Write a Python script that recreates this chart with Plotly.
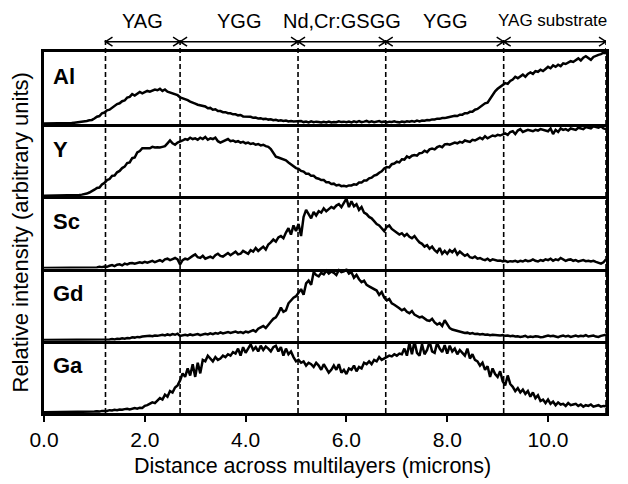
import plotly.graph_objects as go
from plotly.subplots import make_subplots

# ---------------- data ----------------
STEP = 0.05          # microns between samples
XMAX = 11.15         # right edge of the scan (microns)

ELEMENTS = ["Al", "Y", "Sc", "Gd", "Ga"]

AL = [
0.00,0.00,0.00,0.00,0.00,0.00,0.00,0.00,0.005,0.005,0.01,0.008,0.012,0.015,0.02,0.025,0.03,0.035,0.045,0.05,
0.07,0.095,0.105,0.145,0.155,0.185,0.195,0.225,0.245,0.275,0.285,0.315,0.325,0.365,0.375,0.415,0.395,0.425,0.445,0.425,
0.44,0.46,0.45,0.47,0.48,0.47,0.49,0.46,0.48,0.45,0.44,0.43,0.42,0.40,0.37,0.36,0.34,0.33,0.31,0.30,
0.28,0.265,0.26,0.245,0.24,0.215,0.22,0.195,0.20,0.175,0.175,0.16,0.16,0.145,0.145,0.13,0.13,0.115,0.12,0.10,
0.10,0.09,0.095,0.08,0.085,0.07,0.075,0.062,0.068,0.055,0.06,0.046,0.052,0.04,0.046,0.036,0.042,0.03,0.036,0.028,
0.03,0.022,0.034,0.02,0.028,0.016,0.03,0.018,0.026,0.02,0.014,0.024,0.016,0.028,0.014,0.022,0.018,0.03,0.02,0.026,
0.018,0.028,0.016,0.03,0.02,0.034,0.018,0.026,0.036,0.02,0.03,0.018,0.026,0.034,0.02,0.028,0.016,0.026,0.022,0.03,
0.02,0.016,0.028,0.02,0.032,0.024,0.034,0.026,0.04,0.03,0.042,0.038,0.05,0.046,0.058,0.056,0.068,0.066,0.078,0.076,
0.085,0.095,0.095,0.11,0.105,0.125,0.125,0.145,0.145,0.165,0.165,0.195,0.205,0.235,0.255,0.285,0.295,0.355,0.41,0.455,
0.49,0.52,0.55,0.57,0.56,0.60,0.62,0.66,0.64,0.67,0.69,0.66,0.70,0.72,0.70,0.74,0.73,0.76,0.74,0.77,
0.80,0.78,0.82,0.80,0.83,0.81,0.85,0.84,0.86,0.88,0.87,0.90,0.92,0.89,0.93,0.95,0.92,0.90,0.94,0.96,
0.97,0.98,1.00,0.99]

Y = [
0,0,0,0,0,0,0,0,0,0,0,0,0.005,0.008,0.01,0.015,0.02,0.03,0.045,0.06,
0.085,0.11,0.115,0.16,0.18,0.22,0.235,0.28,0.285,0.33,0.35,0.39,0.41,0.46,0.47,0.53,0.54,0.61,0.63,0.67,
0.67,0.68,0.67,0.69,0.68,0.685,0.68,0.69,0.70,0.74,0.78,0.74,0.72,0.75,0.76,0.78,0.80,0.79,0.82,0.80,
0.81,0.79,0.82,0.80,0.83,0.79,0.81,0.80,0.82,0.77,0.75,0.77,0.78,0.80,0.77,0.78,0.76,0.77,0.75,0.76,
0.74,0.75,0.73,0.74,0.72,0.73,0.71,0.72,0.70,0.69,0.66,0.60,0.55,0.54,0.53,0.51,0.50,0.47,0.44,0.41,
0.39,0.38,0.35,0.34,0.31,0.31,0.28,0.28,0.25,0.24,0.22,0.22,0.19,0.19,0.165,0.17,0.145,0.155,0.135,0.14,
0.13,0.145,0.145,0.16,0.155,0.185,0.185,0.215,0.215,0.245,0.255,0.285,0.295,0.325,0.345,0.385,0.405,0.40,0.445,0.455,
0.48,0.47,0.515,0.51,0.555,0.535,0.565,0.575,0.565,0.60,0.605,0.635,0.615,0.655,0.665,0.655,0.685,0.70,0.685,0.725,
0.73,0.72,0.74,0.75,0.74,0.76,0.75,0.78,0.77,0.76,0.79,0.78,0.80,0.82,0.80,0.84,0.81,0.83,0.85,0.84,
0.86,0.85,0.87,0.88,0.86,0.90,0.91,0.87,0.92,0.94,0.90,0.92,0.93,0.92,0.91,0.93,0.92,0.94,0.93,0.92,
0.91,0.95,0.87,0.93,0.90,0.95,0.93,0.94,0.92,0.95,0.94,0.93,0.96,0.95,0.94,0.97,0.96,0.95,0.98,0.97,
0.96,0.98,0.95,0.94]

SC = [
0,0,0,0,0,0,0,0,0,0,0,0,0,0,0,0,0,0,0.005,0.0,
0.01,0.005,0.015,0.01,0.02,0.015,0.03,0.04,0.025,0.045,0.05,0.035,0.06,0.05,0.065,0.07,0.06,0.075,0.08,0.07,
0.085,0.075,0.09,0.10,0.08,0.095,0.11,0.09,0.12,0.13,0.11,0.125,0.14,0.12,0.05,0.11,0.13,0.12,0.15,0.17,
0.19,0.15,0.14,0.17,0.13,0.15,0.16,0.14,0.18,0.20,0.17,0.16,0.19,0.21,0.18,0.20,0.23,0.19,0.20,0.24,
0.22,0.20,0.25,0.23,0.28,0.24,0.27,0.30,0.26,0.33,0.36,0.40,0.37,0.43,0.45,0.42,0.50,0.56,0.47,0.60,
0.52,0.62,0.45,0.72,0.82,0.76,0.70,0.79,0.74,0.80,0.78,0.84,0.80,0.83,0.86,0.84,0.88,0.90,0.86,0.92,
0.98,0.86,0.94,0.87,0.90,0.82,0.86,0.78,0.76,0.72,0.70,0.66,0.62,0.60,0.56,0.52,0.58,0.60,0.55,0.52,
0.50,0.47,0.49,0.45,0.48,0.44,0.42,0.45,0.40,0.36,0.34,0.30,0.32,0.27,0.30,0.25,0.22,0.28,0.20,0.24,
0.20,0.25,0.22,0.26,0.19,0.23,0.20,0.17,0.19,0.15,0.14,0.16,0.13,0.14,0.12,0.11,0.13,0.10,0.12,0.11,
0.10,0.105,0.09,0.10,0.085,0.095,0.09,0.10,0.085,0.10,0.09,0.11,0.095,0.10,0.12,0.10,0.09,0.11,0.10,0.12,
0.11,0.13,0.10,0.12,0.11,0.14,0.12,0.10,0.115,0.12,0.10,0.11,0.09,0.10,0.11,0.095,0.10,0.09,0.10,0.085,
0.07,0.06,0.08,0.12]

GD = [
0,0,0,0,0,0,0,0,0,0,0,0,0,0,0,0,0,0,0,0,
0.0,0.005,0.0,0.005,0.01,0.005,0.01,0.015,0.01,0.02,0.015,0.025,0.02,0.03,0.025,0.04,0.035,0.045,0.04,0.05,
0.055,0.05,0.06,0.055,0.065,0.06,0.07,0.075,0.065,0.08,0.07,0.085,0.075,0.09,0.06,0.07,0.075,0.065,0.08,0.07,
0.075,0.085,0.07,0.08,0.09,0.08,0.095,0.085,0.10,0.09,0.11,0.095,0.10,0.115,0.10,0.11,0.12,0.105,0.115,0.10,
0.12,0.11,0.13,0.14,0.12,0.16,0.18,0.20,0.17,0.22,0.26,0.30,0.32,0.38,0.46,0.40,0.42,0.52,0.56,0.60,
0.62,0.68,0.72,0.64,0.80,0.84,0.78,0.96,0.92,0.90,0.95,0.93,0.98,0.94,0.97,0.95,0.92,0.99,0.96,0.97,
1.00,0.94,0.96,0.88,0.92,0.86,0.82,0.84,0.78,0.76,0.74,0.72,0.70,0.64,0.68,0.60,0.56,0.58,0.52,0.50,
0.48,0.45,0.42,0.44,0.40,0.38,0.41,0.36,0.34,0.32,0.33,0.30,0.28,0.27,0.30,0.25,0.22,0.24,0.20,0.28,
0.22,0.17,0.15,0.14,0.13,0.12,0.11,0.10,0.105,0.09,0.10,0.085,0.09,0.08,0.085,0.075,0.08,0.07,0.075,0.07,
0.075,0.065,0.07,0.06,0.065,0.055,0.06,0.05,0.055,0.045,0.05,0.06,0.04,0.05,0.045,0.055,0.05,0.04,0.045,0.06,
0.065,0.055,0.06,0.05,0.04,0.055,0.065,0.05,0.06,0.045,0.055,0.065,0.05,0.06,0.055,0.07,0.05,0.06,0.065,0.05,
0.045,0.06,0.07,0.075]

GA = [
0,0,0,0,0,0,0,0,0,0,0,0,0.005,0,0.005,0,0.005,0.01,0.005,0.01,
0.01,0.015,0.01,0.02,0.015,0.02,0.03,0.025,0.035,0.03,0.04,0.035,0.045,0.05,0.04,0.055,0.06,0.05,0.065,0.06,
0.09,0.10,0.12,0.14,0.13,0.17,0.20,0.18,0.25,0.22,0.30,0.28,0.35,0.38,0.45,0.55,0.50,0.62,0.52,0.68,
0.50,0.70,0.55,0.74,0.72,0.80,0.76,0.72,0.78,0.74,0.76,0.80,0.78,0.82,0.80,0.85,0.83,0.90,0.80,0.92,
0.84,0.90,0.96,0.88,0.92,0.86,0.94,0.88,0.93,0.90,0.86,0.92,0.94,0.86,0.92,0.80,0.90,0.82,0.86,0.78,
0.72,0.74,0.70,0.72,0.66,0.70,0.68,0.64,0.70,0.66,0.60,0.68,0.62,0.56,0.60,0.66,0.60,0.68,0.56,0.60,
0.54,0.62,0.60,0.66,0.58,0.64,0.62,0.70,0.68,0.72,0.68,0.74,0.72,0.78,0.74,0.76,0.78,0.80,0.79,0.82,
0.80,0.83,0.82,0.90,0.80,0.98,0.82,1.00,0.84,0.80,0.96,0.82,0.88,1.00,0.86,0.84,0.98,0.90,0.85,0.95,
0.83,0.94,0.86,0.90,0.82,0.88,0.84,0.80,0.90,0.76,0.82,0.74,0.72,0.66,0.70,0.60,0.65,0.50,0.62,0.54,
0.50,0.58,0.44,0.38,0.52,0.40,0.36,0.30,0.34,0.28,0.32,0.26,0.30,0.22,0.28,0.20,0.24,0.16,0.18,0.13,
0.18,0.12,0.15,0.10,0.14,0.11,0.12,0.09,0.13,0.10,0.11,0.12,0.09,0.11,0.08,0.10,0.09,0.11,0.08,0.09,
0.10,0.08,0.09,0.085]

SERIES = [AL, Y, SC, GD, GA]

# layer boundaries (microns) and layer names
BOUNDARIES = [1.22, 2.70, 5.04, 6.78, 9.12, XMAX]
LAYERS = ["YAG", "YGG", "Nd,Cr:GSGG", "YGG", "YAG substrate"]

TICKS = [0, 2, 4, 6, 8, 10]
TICK_LABELS = ["0.0", "2.0", "4.0", "6.0", "8.0", "10.0"]

X_TITLE = "Distance across multilayers (microns)"
Y_TITLE = "Relative intensity (arbitrary units)"

# ---------------- figure ----------------
FONT = "Arial, Liberation Sans, sans-serif"
# the page body adds an 8px offset, so the figure is 8px smaller
W, H = 620, 476
ML, MR, MT, MB = 36, 22, 44, 71
PW, PH = W - ML - MR, H - MT - MB

fig = make_subplots(rows=5, cols=1, shared_xaxes=True, vertical_spacing=0)

for i, (name, vals) in enumerate(zip(ELEMENTS, SERIES), start=1):
    xs = [round(k * STEP, 2) for k in range(len(vals))]
    fig.add_trace(go.Scatter(x=xs, y=vals, mode="lines",
                             line=dict(color="black", width=2.5),
                             showlegend=False, hoverinfo="skip"),
                  row=i, col=1)
    fig.update_yaxes(range=[-0.01, 1.01], showticklabels=False, ticks="",
                     showgrid=False, zeroline=False, showline=True,
                     linewidth=3, linecolor="black", mirror=True,
                     row=i, col=1)
    sfx = "" if i == 1 else str(i)
    fig.add_annotation(text=f"<b>{name}</b>", xref=f"x{sfx} domain",
                       yref=f"y{sfx} domain", x=0.012, y=0.654,
                       xanchor="left", yanchor="middle", showarrow=False,
                       font=dict(size=22, color="black", family=FONT))

fig.update_xaxes(range=[0, XMAX], showgrid=False, zeroline=False,
                 showline=True, linewidth=3, linecolor="black",
                 mirror=False, ticks="")
fig.update_xaxes(mirror=True, row=1, col=1)
fig.update_xaxes(row=5, col=1, ticks="outside", ticklen=6, tickwidth=2,
                 tickcolor="black", tickvals=TICKS, ticktext=TICK_LABELS,
                 showticklabels=True, tickfont=dict(size=21, color="black"))

# axis titles
fig.add_annotation(text=X_TITLE, xref="paper", yref="paper",
                   x=(304 - ML) / PW, y=-53 / PH, xanchor="center",
                   yanchor="middle", showarrow=False,
                   font=dict(size=21.5, color="black", family=FONT))
fig.add_annotation(text=Y_TITLE, xref="paper", yref="paper",
                   x=(12 - ML) / PW, y=0.5, xanchor="center",
                   yanchor="middle", textangle=-90, showarrow=False,
                   font=dict(size=22, color="black", family=FONT))

# dashed layer boundaries, from the arrow row down to the bottom axis
px_y = 1.0 / PH
px_x = XMAX / PW
dash_top = 1 + 15 * px_y
arrow_y = 1 + 10.3 * px_y
label_y = 1 + 31.5 * px_y

for b in BOUNDARIES:
    fig.add_shape(type="line", xref="x", yref="paper", x0=b, x1=b,
                  y0=0, y1=dash_top, layer="above",
                  line=dict(color="black", width=1.6, dash="5px,3px"))

dx, dy = 7 * px_x, 4.5 * px_y
for k, (a, b, name) in enumerate(zip(BOUNDARIES[:-1], BOUNDARIES[1:], LAYERS)):
    path = (f"M{a},{arrow_y} L{b},{arrow_y} "
            f"M{a + dx},{arrow_y + dy} L{a},{arrow_y} L{a + dx},{arrow_y - dy} "
            f"M{b - dx},{arrow_y + dy} L{b},{arrow_y} L{b - dx},{arrow_y - dy}")
    fig.add_shape(type="path", xref="x", yref="paper", path=path,
                  layer="above", line=dict(color="black", width=1.5))
    last = k == len(LAYERS) - 1
    fig.add_annotation(text=name, xref="x", yref="paper",
                       x=b if last else (a + b) / 2, xshift=3 if last else 0,
                       y=label_y, xanchor="right" if last else "center",
                       yanchor="middle", showarrow=False,
                       font=dict(size=17 if last else 20, color="black",
                                 family=FONT))

fig.update_layout(width=W, height=H,
                  margin=dict(l=ML, r=MR, t=MT, b=MB),
                  paper_bgcolor="white", plot_bgcolor="white",
                  font=dict(family=FONT, color="black"),
                  showlegend=False)

fig.write_html("out.html")
